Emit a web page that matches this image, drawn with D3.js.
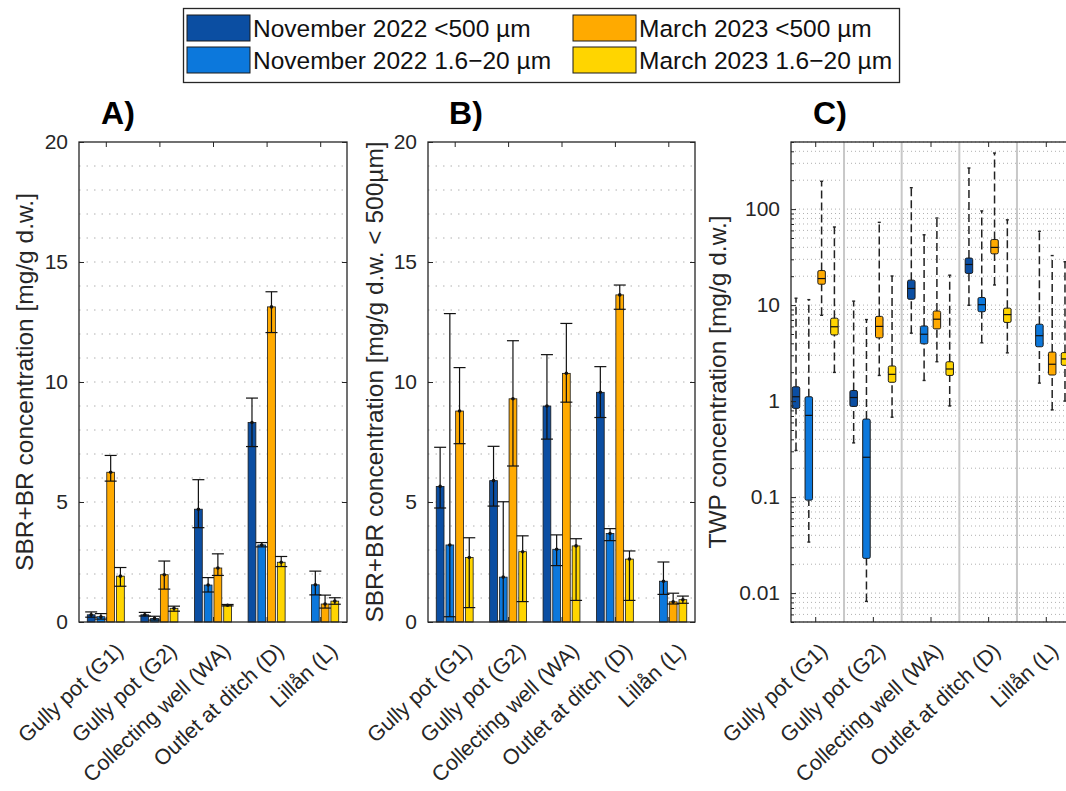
<!DOCTYPE html>
<html>
<head>
<meta charset="utf-8">
<script src="https://cdn.jsdelivr.net/npm/d3@7"></script>
<style>
  body { margin: 0; background: #fff; }
  text { font-family: "Liberation Sans", Arial, sans-serif; }
</style>
</head>
<body>
<svg id="chart"></svg>
<script>
var categories = ["Gully pot (G1)", "Gully pot (G2)", "Collecting well (WA)", "Outlet at ditch (D)", "Lillån (L)"];
var seriesNames = ["November 2022 <500 µm", "November 2022 1.6\u221220 µm", "March 2023 <500 µm", "March 2023 1.6\u221220 µm"];
var seriesColors = ["#0B4EA2", "#0C78DC", "#FFAA00", "#FFD500"];

// panel A: SBR+BR, one row per series (mean, lower and upper error ends)
var aMean = [[0.30, 0.30, 4.70, 8.31, null], [0.22, 0.15, 1.54, 3.21, 1.55], [6.24, 1.97, 2.25, 13.13, 0.75], [1.91, 0.57, 0.70, 2.49, 0.87]];
var aLow  = [[0.20, 0.25, 3.93, 7.31, null], [0.12, 0.08, 1.25, 3.13, 1.13], [5.87, 1.37, 1.94, 12.06, 0.58], [1.49, 0.45, 0.67, 2.31, 0.74]];
var aHigh = [[0.42, 0.40, 5.93, 9.33, null], [0.35, 0.24, 1.85, 3.31, 2.12], [6.94, 2.54, 2.84, 13.76, 1.12], [2.27, 0.66, 0.73, 2.73, 1.01]];

// panel B: SBR+BR in the < 500 µm fraction
var bMean = [[5.65, 5.89, 9.00, 9.57, null], [3.21, 1.87, 3.03, 3.69, 1.70], [8.79, 9.30, 10.36, 13.63, 0.84], [2.69, 2.93, 3.17, 2.62, 0.93]];
var bLow  = [[4.75, 4.83, 7.62, 8.52, null], [0.22, 0.04, 2.35, 3.39, 1.15], [7.43, 6.50, 9.16, 13.03, 0.75], [0.60, 0.85, 0.90, 0.90, 0.78]];
var bHigh = [[7.28, 7.32, 11.14, 10.64, null], [12.85, 5.01, 3.63, 3.89, 2.50], [10.60, 11.72, 12.44, 14.04, 1.20], [3.51, 3.59, 3.47, 2.96, 1.08]];

// panel C: TWP boxplots [lower whisker, q1, median, q3, upper whisker]
var cNov500 = [[0.306, 0.84, 1.11, 1.41, 11.8], [0.367, 0.88, 1.09, 1.29, 11.0], [5.1, 11.5, 14.9, 18.2, 167], [9.96, 21.4, 26.5, 30.9, 268], null];
var cNov1620 = [[0.034, 0.093, 0.71, 1.11, 11.4], [0.0082, 0.023, 0.26, 0.65, 7.07], [1.64, 3.95, 4.97, 6.06, 54], [4.05, 8.53, 10.1, 12.0, 95.8], [1.54, 3.68, 4.8, 6.32, 58.7]];
var cMar500 = [[7.83, 16.5, 18.9, 22.9, 195], [1.85, 4.56, 6.0, 7.63, 72.8], [2.57, 5.65, 7.13, 8.68, 80.7], [16.2, 34.2, 39.9, 48.2, 384], [0.81, 1.87, 2.42, 3.24, 32.8]];
var cMar1620 = [[1.99, 4.89, 5.95, 7.31, 65.1], [0.68, 1.57, 1.90, 2.32, 20.1], [0.89, 1.85, 2.16, 2.57, 20.5], [3.18, 6.6, 7.96, 9.3, 77.3], [1.0, 2.36, 2.75, 3.2, 28.3]];

var barTicks = [0, 5, 10, 15, 20];
var logTicks = [0.01, 0.1, 1, 10, 100];

var w = 1066, h = 791;
var top_y = 142, bottom_y = 622;
var axisColor = "#262626";

var svg = d3.select("#chart").attr("width", w).attr("height", h);
svg.append("rect").attr("width", w).attr("height", h).attr("fill", "#fff");

function styleAxis(g) {
  g.select(".domain").remove();
  g.selectAll(".tick line").attr("stroke", axisColor);
  g.selectAll(".tick text").attr("fill", axisColor).style("font-size", "21px");
}

function xLabels(g, dx) {
  g.selectAll(".tick text")
    .style("font-size", "21.5px")
    .attr("y", 0).attr("dy", "0.35em")
    .attr("text-anchor", "end")
    .attr("transform", "translate(" + dx + ",25) rotate(-43)");
}

function barPanel(opt) {
  var x = d3.scaleLinear().domain([0.5, 5.5]).range([opt.left, opt.right]);
  var y = d3.scaleLinear().domain([0, 20]).range([bottom_y, top_y]);
  var g = svg.append("g");

  g.selectAll(null).data(d3.range(1, 20)).enter().append("line")
    .attr("x1", opt.left).attr("x2", opt.right)
    .attr("y1", function (d) { return y(d); }).attr("y2", function (d) { return y(d); })
    .attr("stroke", "#b0b0b0").attr("stroke-dasharray", "1.5,6");

  var slot = (4 / 5.5) / 4;
  var bw = x(slot * 0.8) - x(0);

  seriesNames.forEach(function (name, s) {
    var pts = categories.map(function (c, i) {
      return { i: i, m: opt.mean[s][i], lo: opt.low[s][i], hi: opt.high[s][i] };
    }).filter(function (d) { return d.m != null; });
    var cx = function (d) { return x(d.i + 1 + (s - 1.5) * slot); };

    g.selectAll(null).data(pts).enter().append("rect")
      .attr("x", function (d) { return cx(d) - bw / 2; })
      .attr("width", bw)
      .attr("y", function (d) { return y(d.m); })
      .attr("height", function (d) { return y(0) - y(d.m); })
      .attr("fill", seriesColors[s])
      .attr("stroke", "#1a1a1a").attr("stroke-width", 0.8);

    var eb = g.selectAll(null).data(pts).enter().append("g")
      .attr("stroke", "#111").attr("stroke-width", 1.2);
    eb.append("line")
      .attr("x1", cx).attr("x2", cx)
      .attr("y1", function (d) { return y(d.lo); }).attr("y2", function (d) { return y(d.hi); });
    eb.append("line")
      .attr("x1", function (d) { return cx(d) - 6; }).attr("x2", function (d) { return cx(d) + 6; })
      .attr("y1", function (d) { return y(d.lo); }).attr("y2", function (d) { return y(d.lo); });
    eb.append("line")
      .attr("x1", function (d) { return cx(d) - 6; }).attr("x2", function (d) { return cx(d) + 6; })
      .attr("y1", function (d) { return y(d.hi); }).attr("y2", function (d) { return y(d.hi); });
    g.selectAll(null).data(pts).enter().append("circle")
      .attr("cx", cx).attr("cy", function (d) { return y(d.m); })
      .attr("r", 1.8).attr("fill", "#111");
  });

  g.append("g").attr("transform", "translate(" + opt.left + ",0)")
    .call(d3.axisLeft(y).tickValues(barTicks).tickSizeInner(-5).tickSizeOuter(0).tickPadding(11))
    .call(styleAxis);
  g.append("g").attr("transform", "translate(" + opt.right + ",0)")
    .call(d3.axisRight(y).tickValues(barTicks).tickSizeInner(-5).tickSizeOuter(0).tickFormat(""))
    .call(styleAxis);
  g.append("g").attr("transform", "translate(0," + top_y + ")")
    .call(d3.axisTop(x).tickValues([1, 2, 3, 4, 5]).tickSizeInner(-5).tickSizeOuter(0).tickFormat(""))
    .call(styleAxis);
  g.append("g").attr("transform", "translate(0," + bottom_y + ")")
    .call(d3.axisBottom(x).tickValues([1, 2, 3, 4, 5]).tickSizeInner(-5).tickSizeOuter(0)
      .tickFormat(function (d) { return categories[d - 1]; }))
    .call(styleAxis).call(xLabels, 13);

  g.append("rect").attr("x", opt.left).attr("y", top_y)
    .attr("width", opt.right - opt.left).attr("height", bottom_y - top_y)
    .attr("fill", "none").attr("stroke", axisColor).attr("stroke-width", 1.3);

  g.append("text").attr("transform", "translate(" + opt.labelX + "," + (top_y + bottom_y) / 2 + ") rotate(-90)")
    .attr("text-anchor", "middle").attr("fill", axisColor).style("font-size", "24.5px")
    .text(opt.ylabel);
  g.append("text").attr("x", opt.titleX).attr("y", 124).attr("text-anchor", "middle")
    .style("font-size", "32px").style("font-weight", "bold").text(opt.title);
}

barPanel({ left: 79, right: 347, mean: aMean, low: aLow, high: aHigh, labelX: 33, titleX: 118,
  ylabel: "SBR+BR concentration [mg/g d.w.]", title: "A)" });
barPanel({ left: 428, right: 695, mean: bMean, low: bLow, high: bHigh, labelX: 383, titleX: 466,
  ylabel: "SBR+BR concentration [mg/g d.w. < 500µm]", title: "B)" });

// panel C
(function () {
  var left = 791, right = 1070;
  var x = d3.scaleLinear().domain([0.58, 5.42]).range([left, right]);
  var y = d3.scaleLog().domain([0.005, 500]).range([bottom_y, top_y]);
  var g = svg.append("g");

  var minor = [];
  [-3, -2, -1, 0, 1, 2].forEach(function (e) {
    d3.range(1, 10).forEach(function (k) {
      var v = k * Math.pow(10, e);
      if (v >= 0.005 && v <= 500) minor.push(v);
    });
  });

  g.selectAll(null).data(minor).enter().append("line")
    .attr("x1", left).attr("x2", right)
    .attr("y1", function (d) { return y(d); }).attr("y2", function (d) { return y(d); })
    .attr("stroke", "#b0b0b0").attr("stroke-dasharray", "1,3");

  g.selectAll(null).data([1.5, 2.5, 3.5, 4.5]).enter().append("line")
    .attr("x1", function (d) { return x(d); }).attr("x2", function (d) { return x(d); })
    .attr("y1", top_y).attr("y2", bottom_y)
    .attr("stroke", "#c8c8c8").attr("stroke-width", 2);

  var boxData = [cNov500, cNov1620, cMar500, cMar1620];
  var off = 0.222, bw = 7.5;
  boxData.forEach(function (arr, s) {
    var pts = arr.map(function (v, i) { return { i: i, v: v }; }).filter(function (d) { return d.v != null; });
    var cx = function (d) { return x(d.i + 1 + (s - 1.5) * off); };
    var bg = g.selectAll(null).data(pts).enter().append("g");
    bg.append("line").attr("x1", cx).attr("x2", cx)
      .attr("y1", function (d) { return y(d.v[0]); }).attr("y2", function (d) { return y(d.v[1]); })
      .attr("stroke", "#222").attr("stroke-width", 1.5).attr("stroke-dasharray", "8,4");
    bg.append("line").attr("x1", cx).attr("x2", cx)
      .attr("y1", function (d) { return y(d.v[3]); }).attr("y2", function (d) { return y(d.v[4]); })
      .attr("stroke", "#222").attr("stroke-width", 1.5).attr("stroke-dasharray", "8,4");
    [0, 4].forEach(function (k) {
      bg.append("line")
        .attr("x1", function (d) { return cx(d) - 1.5; }).attr("x2", function (d) { return cx(d) + 1.5; })
        .attr("y1", function (d) { return y(d.v[k]); }).attr("y2", function (d) { return y(d.v[k]); })
        .attr("stroke", "#222").attr("stroke-width", 1.4);
    });
    bg.append("rect")
      .attr("x", function (d) { return cx(d) - bw / 2; }).attr("width", bw)
      .attr("y", function (d) { return y(d.v[3]); })
      .attr("height", function (d) { return y(d.v[1]) - y(d.v[3]); })
      .attr("rx", 1.5)
      .attr("fill", seriesColors[s]).attr("stroke", "#1a1a1a").attr("stroke-width", 1);
    bg.append("line")
      .attr("x1", function (d) { return cx(d) - bw / 2; }).attr("x2", function (d) { return cx(d) + bw / 2; })
      .attr("y1", function (d) { return y(d.v[2]); }).attr("y2", function (d) { return y(d.v[2]); })
      .attr("stroke", "#111").attr("stroke-width", 1.2);
  });

  g.append("g").attr("transform", "translate(" + left + ",0)")
    .call(d3.axisLeft(y).tickValues(logTicks).tickSizeInner(-5).tickSizeOuter(0).tickPadding(11)
      .tickFormat(function (d) { return String(d); }))
    .call(styleAxis);
  g.append("g").attr("transform", "translate(" + left + ",0)")
    .call(d3.axisLeft(y).tickValues(minor.filter(function (v) { return logTicks.indexOf(v) < 0; }))
      .tickSizeInner(-3).tickSizeOuter(0).tickFormat(""))
    .call(styleAxis);
  g.append("g").attr("transform", "translate(0," + top_y + ")")
    .call(d3.axisTop(x).tickValues([1, 2, 3, 4, 5]).tickSizeInner(-5).tickSizeOuter(0).tickFormat(""))
    .call(styleAxis);
  g.append("g").attr("transform", "translate(0," + bottom_y + ")")
    .call(d3.axisBottom(x).tickValues([1, 2, 3, 4, 5]).tickSizeInner(-5).tickSizeOuter(0)
      .tickFormat(function (d) { return categories[d - 1]; }))
    .call(styleAxis).call(xLabels, 8);

  g.append("rect").attr("x", left).attr("y", top_y)
    .attr("width", right - left).attr("height", bottom_y - top_y)
    .attr("fill", "none").attr("stroke", axisColor).attr("stroke-width", 1.3);

  g.append("text").attr("transform", "translate(726," + (top_y + bottom_y) / 2 + ") rotate(-90)")
    .attr("text-anchor", "middle").attr("fill", axisColor).style("font-size", "24.5px")
    .text("TWP concentration [mg/g d.w.]");
  g.append("text").attr("x", 830).attr("y", 124).attr("text-anchor", "middle")
    .style("font-size", "32px").style("font-weight", "bold").text("C)");
})();

// legend
var lg = svg.append("g");
lg.append("rect").attr("x", 183.5).attr("y", 8.5).attr("width", 716).attr("height", 74)
  .attr("fill", "#fff").attr("stroke", axisColor).attr("stroke-width", 1.3);
var legendCols = [0, 0, 1, 1];
var legendRows = [0, 1, 0, 1];
seriesNames.forEach(function (name, s) {
  var sx = legendCols[s] === 0 ? 187 : 573;
  var sy = legendRows[s] === 0 ? 15 : 47;
  lg.append("rect").attr("x", sx).attr("y", sy).attr("width", 63).attr("height", 26)
    .attr("fill", seriesColors[s]).attr("stroke", "#1a1a1a").attr("stroke-width", 1);
  lg.append("text").attr("x", sx + 66).attr("y", sy + 13).attr("dy", "0.35em")
    .style("font-size", "24.5px").attr("fill", "#111").text(name);
});
</script>
</body>
</html>
